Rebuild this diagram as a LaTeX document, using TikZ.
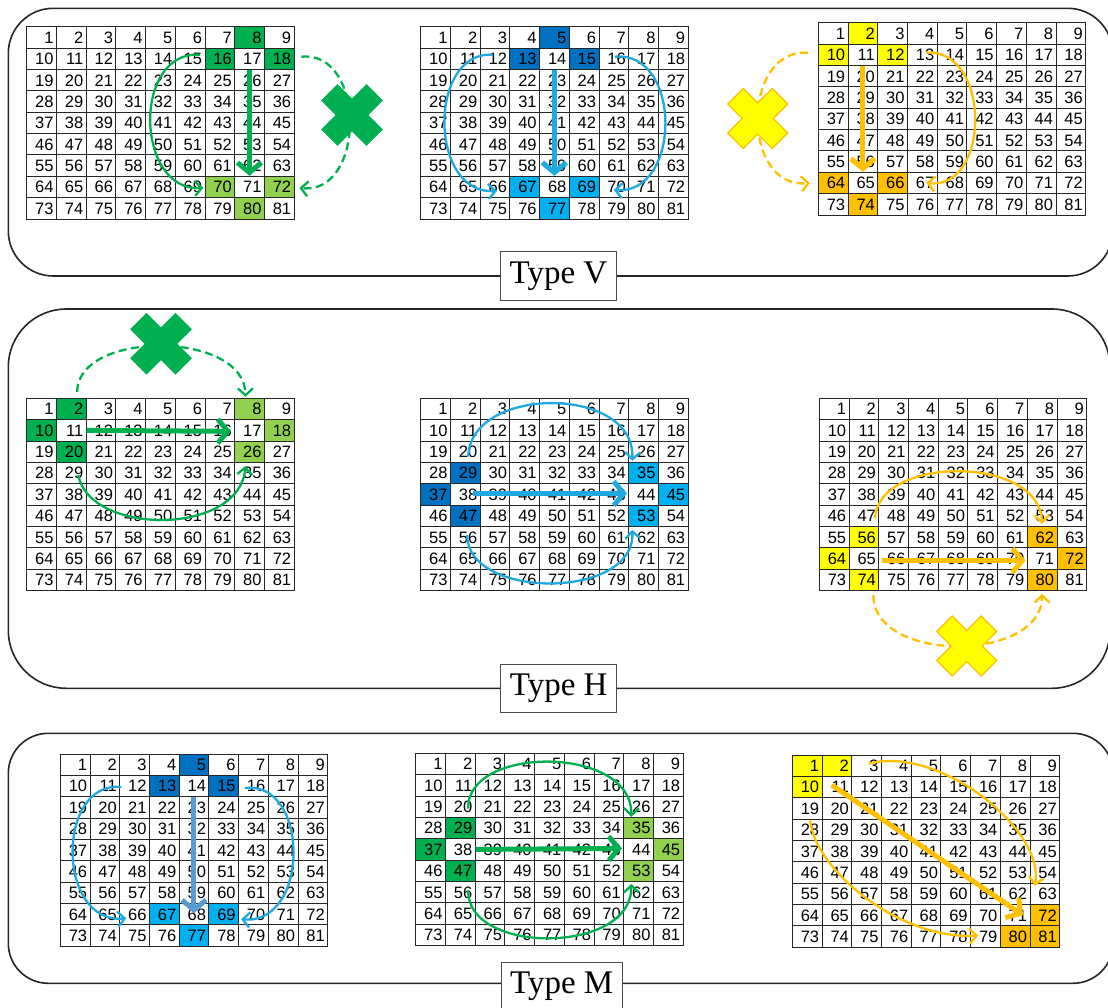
\documentclass[tikz,border=0pt]{standalone}
\usepackage{fontspec}
\setmainfont{Liberation Serif}
\setsansfont{Liberation Sans}
\usetikzlibrary{arrows.meta,calc,backgrounds}
\definecolor{dg}{HTML}{00B050}
\definecolor{lg}{HTML}{92D050}
\definecolor{db}{HTML}{0070C0}
\definecolor{lb}{HTML}{00B0F0}
\definecolor{ab}{HTML}{1FA9E1}
\definecolor{sb}{HTML}{5B9BD5}
\definecolor{yl}{HTML}{FFFF00}
\definecolor{og}{HTML}{FFC000}
\tikzset{
  cell/.style={draw=black!85, line width=0.8pt, minimum width=29.7pt, minimum height=21.36pt,
    inner sep=0pt, text width=24pt, align=right, text height=11.8pt, text depth=0pt,
    font=\sffamily\fontsize{16.5}{16.5}\selectfont},
  panel/.style={draw=black!85, line width=1.6pt},
  lbl/.style={draw=black!70, fill=white, line width=1pt, inner sep=0pt,
    font=\rmfamily\fontsize{33}{33}\selectfont},
  thn/.style={line width=2.3pt, -{Straight Barb[length=7pt,width=15pt]}},
  dsh/.style={thn, dash pattern=on 8pt off 4.5pt},
  thk/.style={line width=5pt, -{Straight Barb[length=10pt,width=24pt]}},
  xcross/.pic={\path[pic actions, line width=1.2pt, rotate=45]
    (11,31.5) -- (11,11) -- (31.5,11) -- (31.5,-11) -- (11,-11) -- (11,-31.5) --
    (-11,-31.5) -- (-11,-11) -- (-31.5,-11) -- (-31.5,11) -- (-11,11) -- (-11,31.5) -- cycle;}
}
\newcommand\mkgrid[3]{%
  \foreach \r in {0,...,8}{\foreach \c in {0,...,8}{%
    \pgfmathtruncatemacro\n{\r*9+\c+1}%
    \node[cell] (#1-\n) at ({#2+(\c+0.5)*29.7},{#3+(\r+0.5)*21.36}) {\n};
  }}}
\newcommand\fillcells[3]{%
  \begin{scope}[on background layer]
    \foreach \k in {#3}{\fill[#2] (#1-\k.south west) rectangle (#1-\k.north east);}
  \end{scope}}
\begin{document}
\begin{tikzpicture}[x=1pt,y=-1pt]
\useasboundingbox (0,0) rectangle (1108,1007);
\clip (0,0) rectangle (1108,1007);
% panels
\draw[panel, rounded corners=45] (8.3,8.3) rectangle (1112.7,276);
\draw[panel, rounded corners=58] (8.3,309) rectangle (1110,688.3);
\draw[panel, rounded corners=40] (8.3,733.3) rectangle (1113,983.3);
\node[lbl, minimum width=115.3pt, minimum height=48.3pt] (tv) at (558.4,275.9) {Type V};
\node[lbl, minimum width=116pt, minimum height=48.4pt] (th) at (558.7,688.5) {Type H};
\node[lbl, minimum width=121pt, minimum height=48pt] (tm) at (561.7,986.3) {Type M};
% grids
\mkgrid{a}{26.7}{26.7}
\mkgrid{b}{420.7}{26.7}
\mkgrid{c}{818.3}{22.7}
\mkgrid{d}{26.7}{398.3}
\mkgrid{e}{420.7}{398.3}
\mkgrid{f}{819.3}{398.3}
\mkgrid{g}{60.3}{754}
\mkgrid{h}{415.7}{753.3}
\mkgrid{i}{792.3}{755}
% fills
\fillcells{a}{dg}{8,16,18}\fillcells{a}{lg}{70,72,80}
\fillcells{b}{db}{5,13,15}\fillcells{b}{lb}{67,69,77}
\fillcells{c}{yl}{2,10,12}\fillcells{c}{og}{64,66,74}
\fillcells{d}{dg}{2,10,20}\fillcells{d}{lg}{8,18,26}
\fillcells{e}{db}{29,37,47}\fillcells{e}{lb}{35,45,53}
\fillcells{f}{yl}{56,64,74}\fillcells{f}{og}{62,72,80}
\fillcells{g}{db}{5,13,15}\fillcells{g}{lb}{67,69,77}
\fillcells{h}{dg}{29,37,47}\fillcells{h}{lg}{35,45,53}
\fillcells{i}{yl}{1,2,10}\fillcells{i}{og}{72,80,81}
% grid a
\draw[thk,dg] (a-17.south) -- (a-71.north);
\draw[thn,dg] ($(a-15)+(10,-4)$) .. controls (132,50) and (135,192) .. ($(a-69.east)+(-2,1)$);
\draw[dsh,dg] ($(a-18.east)+(7,-2)$) .. controls (366,50) and (366,195) .. ($(a-72.east)+(5,1)$);
\pic[fill=dg, draw=dg] at (352,115) {xcross};
% grid b
\draw[thk,ab] (b-14.south) -- (b-68.north);
\draw[thn,ab] ($(b-12)+(-2,-4)$) .. controls (428,50) and (428,195) .. ($(b-66)+(2,4)$);
\draw[thn,ab] ($(b-16)+(1,-2)$) .. controls (682,50) and (682,195) .. ($(b-70)+(0,3)$);
% grid c
\draw[thk,og] (c-11.south) -- (c-65.north);
\draw[thn,og] ($(c-13)+(4,-2)$) .. controls (991,48) and (991,190) .. ($(c-67)+(4,0)$);
\draw[dsh,og] ($(c-10.west)+(-10,-2)$) .. controls (741,48) and (741,190) .. ($(c-64.west)+(-8,0)$);
\pic[fill=yl, draw=og] at (757.7,118.5) {xcross};
% grid d
\draw[thk,dg] (d-11.east) -- ($(d-16.east)+(-4,1)$);
\draw[thn,dg] ($(d-29)+(7,2)$) .. controls (90,536) and (240,536) .. ($(d-35.north)+(-4,4)$);
\draw[dsh,dg] ($(d-2.north)+(6,-6)$) .. controls (77,330) and (245,330) .. ($(d-8.north)+(-4,-1)$);
\pic[fill=dg, draw=dg] at (161,343.7) {xcross};
% grid e
\draw[thk,ab] ($(e-38)+(8,-1)$) -- ($(e-43.east)+(-2,-1)$);
\draw[thn,ab] ($(e-20)+(3,5)$) .. controls (470,385) and (636,385) .. ($(e-26.south west)+(4,-2)$);
\draw[thn,ab] ($(e-56)+(2,-2)$) .. controls (467,600) and (636,600) .. ($(e-53.south west)+(4,3)$);
% grid f
\draw[thk,og] ($(f-65.east)+(3,2)$) -- ($(f-70.east)+(-2,2)$);
\draw[thn,og] ($(f-47.east)+(-4,2.5)$) .. controls (878,455) and (1040,455) .. ($(f-53.south)+(0,-3)$);
\draw[dsh,og] ($(f-74.south)+(9.5,4.5)$) .. controls (873,663) and (1042,663) .. ($(f-80.south)+(0,3)$);
\pic[fill=yl, draw=og] at (966.7,646) {xcross};
% grid g
\draw[thk,sb] (g-14.south) -- ($(g-68)+(0,-1)$);
\draw[thn,ab] ($(g-12.west)+(2,1)$) .. controls (56,780) and (56,925) .. ($(g-66.west)+(7,4)$);
\draw[thn,ab] ($(g-16.west)+(6.5,2)$) .. controls (310,780) and (310,925) .. ($(g-70.west)+(3,5)$);
% grid h
\draw[thk,dg] (h-38.east) -- ($(h-43.east)+(-2,-1)$);
\draw[thn,dg] ($(h-20)+(8,2)$) .. controls (466,745) and (633,745) .. ($(h-26.south west)+(8,-1)$);
\draw[thn,dg] ($(h-56)+(8,-2)$) .. controls (466,955) and (633,955) .. ($(h-53.south west)+(8,2)$);
% grid i
\draw[thk,og] ($(i-11)+(-5,-2)$) -- ($(i-71)+(8,0)$);
\draw[thn,og] ($(i-3)+(2,-2)$) .. controls (940,745) and (1045,830) .. ($(i-63.north)+(-10,3)$);
\draw[thn,og] ($(i-19.south)+(3,1)$) .. controls (815,870) and (900,940) .. ($(i-79.west)+(8,-1)$);
\end{tikzpicture}
\end{document}
